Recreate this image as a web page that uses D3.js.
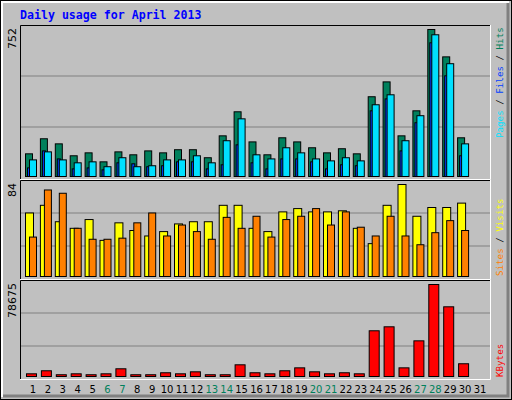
<!DOCTYPE html>
<html><head><meta charset="utf-8">
<script src="https://cdn.jsdelivr.net/npm/d3@7"></script>
<style>body{margin:0;background:#fff}svg{display:block}</style>
</head><body>
<script>
const days = d3.range(1, 32);
const weekends = [6, 7, 13, 14, 20, 21, 27, 28];
const hits = [116,193,167,106,121,75,126,111,131,121,137,137,96,208,331,177,111,198,177,147,121,142,116,408,484,208,336,752,612,198,0];
const files = [44,131,90,39,44,34,70,65,50,55,75,75,39,60,162,70,39,90,90,75,39,60,55,336,397,131,275,684,515,106,0];
const pages = [85,126,85,70,75,50,96,50,55,85,85,106,70,183,295,111,90,147,121,90,80,96,80,367,418,183,311,725,577,167,0];
const visits = [58,65,50,44,52,33,49,42,37,41,48,50,50,65,65,44,41,59,62,59,59,60,44,30,65,84,55,63,63,67,0];
const sites = [36,79,76,44,34,34,35,49,58,37,47,41,34,54,44,55,36,52,55,62,47,59,45,37,55,37,29,40,51,42,0];
const kbytes = [2300,4900,1500,2300,1500,2300,6600,1500,1500,3200,2300,4000,1500,1500,10000,3200,2300,4900,7400,4000,2300,3200,2300,39100,42500,7400,30500,78675,59600,10900,0];
const maxLabels = ["752", "84", "78675"];

const W = 512, H = 400;
const svg = d3.select("body").append("svg").attr("width", W).attr("height", H);
svg.append("rect").attr("width", W).attr("height", H).attr("fill", "#c0c0c0");
// bevel frame
svg.append("rect").attr("x", 0.5).attr("y", 0.5).attr("width", W - 1).attr("height", H - 1).attr("fill", "none").attr("stroke", "#000");
svg.append("path").attr("d", "M2,397V2H509").attr("fill", "none").attr("stroke", "#fff").attr("stroke-width", 2);
svg.append("path").attr("d", "M3,396H508V3").attr("fill", "none").attr("stroke", "#808080").attr("stroke-width", 3);

svg.append("text").attr("x", 20).attr("y", 19)
  .attr("font-family", "DejaVu Sans Mono").attr("font-weight", "bold").attr("font-size", 11.6)
  .attr("fill", "#0000ff").text("Daily usage for April 2013");

const x = d3.scaleLinear().domain([1, 31]).range([31, 478]);

const panels = [
  {top: 25, bottom: 180, base: 176, max: 752, grids: [76, 127]},
  {top: 180, bottom: 280, base: 276, max: 84, grids: [213, 246]},
  {top: 280, bottom: 380, base: 376, max: 78675, grids: [313, 346]}
];
const L = 20, R = 491;

panels.forEach((p, i) => {
  p.y = d3.scaleLinear().domain([0, p.max]).range([p.base, p.base - (i === 0 ? 147 : 92)]);
  p.grids.forEach(g => svg.append("line").attr("x1", L).attr("x2", R).attr("y1", g).attr("y2", g)
    .attr("stroke", "#808080"));
  svg.append("path").attr("d", `M${L + 0.5},${p.bottom}V${p.top + 0.5}H${R}`).attr("fill", "none").attr("stroke", "#000");
  svg.append("path").attr("d", `M${L},${p.bottom - 0.5}H${R - 0.5}V${p.top}`).attr("fill", "none").attr("stroke", "#fff");
  svg.append("text").attr("transform", `translate(16,${p.top + 3}) rotate(-90)`)
    .attr("text-anchor", "end").attr("font-family", "DejaVu Sans").attr("font-size", 11)
    .attr("fill", "#000").text(maxLabels[i]);
});

function bars(data, panel, dx, w, color) {
  svg.append("g").selectAll("rect").data(data).join("rect")
    .filter(d => d > 0)
    .attr("x", (d, i) => x(days[i]) + dx + 0.5)
    .attr("y", d => panel.y(d) + 0.5)
    .attr("width", w)
    .attr("height", d => panel.base - panel.y(d))
    .attr("fill", color).attr("stroke", "#000");
}
bars(hits, panels[0], -6, 7, "#00805c");
bars(files, panels[0], -4, 3, "#0040ff");
bars(pages, panels[0], -2, 7, "#00e0ff");
bars(visits, panels[1], -6, 8, "#ffff00");
bars(sites, panels[1], -2, 7, "#ff8000");
bars(kbytes, panels[2], -5, 10, "#ff0000");

svg.append("g").selectAll("text").data(days).join("text")
  .attr("x", d => x(d) + 2).attr("y", 393).attr("text-anchor", "middle")
  .attr("font-family", "DejaVu Sans").attr("font-size", 10)
  .attr("fill", d => weekends.includes(d) ? "#00805c" : "#000").text(d => d);

function sideLabel(y, parts) {
  const t = svg.append("text").attr("transform", `translate(503,${y}) rotate(-90)`)
    .attr("font-family", "DejaVu Sans Mono").attr("font-size", 9.2);
  parts.forEach(([s, c]) => t.append("tspan").attr("fill", c).text(s));
}
sideLabel(138, [["Pages", "#00e0ff"], [" / ", "#000"], ["Files", "#0040ff"], [" / ", "#000"], ["Hits", "#00805c"]]);
sideLabel(276, [["Sites", "#ff8000"], [" / ", "#000"], ["Visits", "#ffff00"]]);
sideLabel(377, [["KBytes", "#ff0000"]]);
</script>
</body></html>
